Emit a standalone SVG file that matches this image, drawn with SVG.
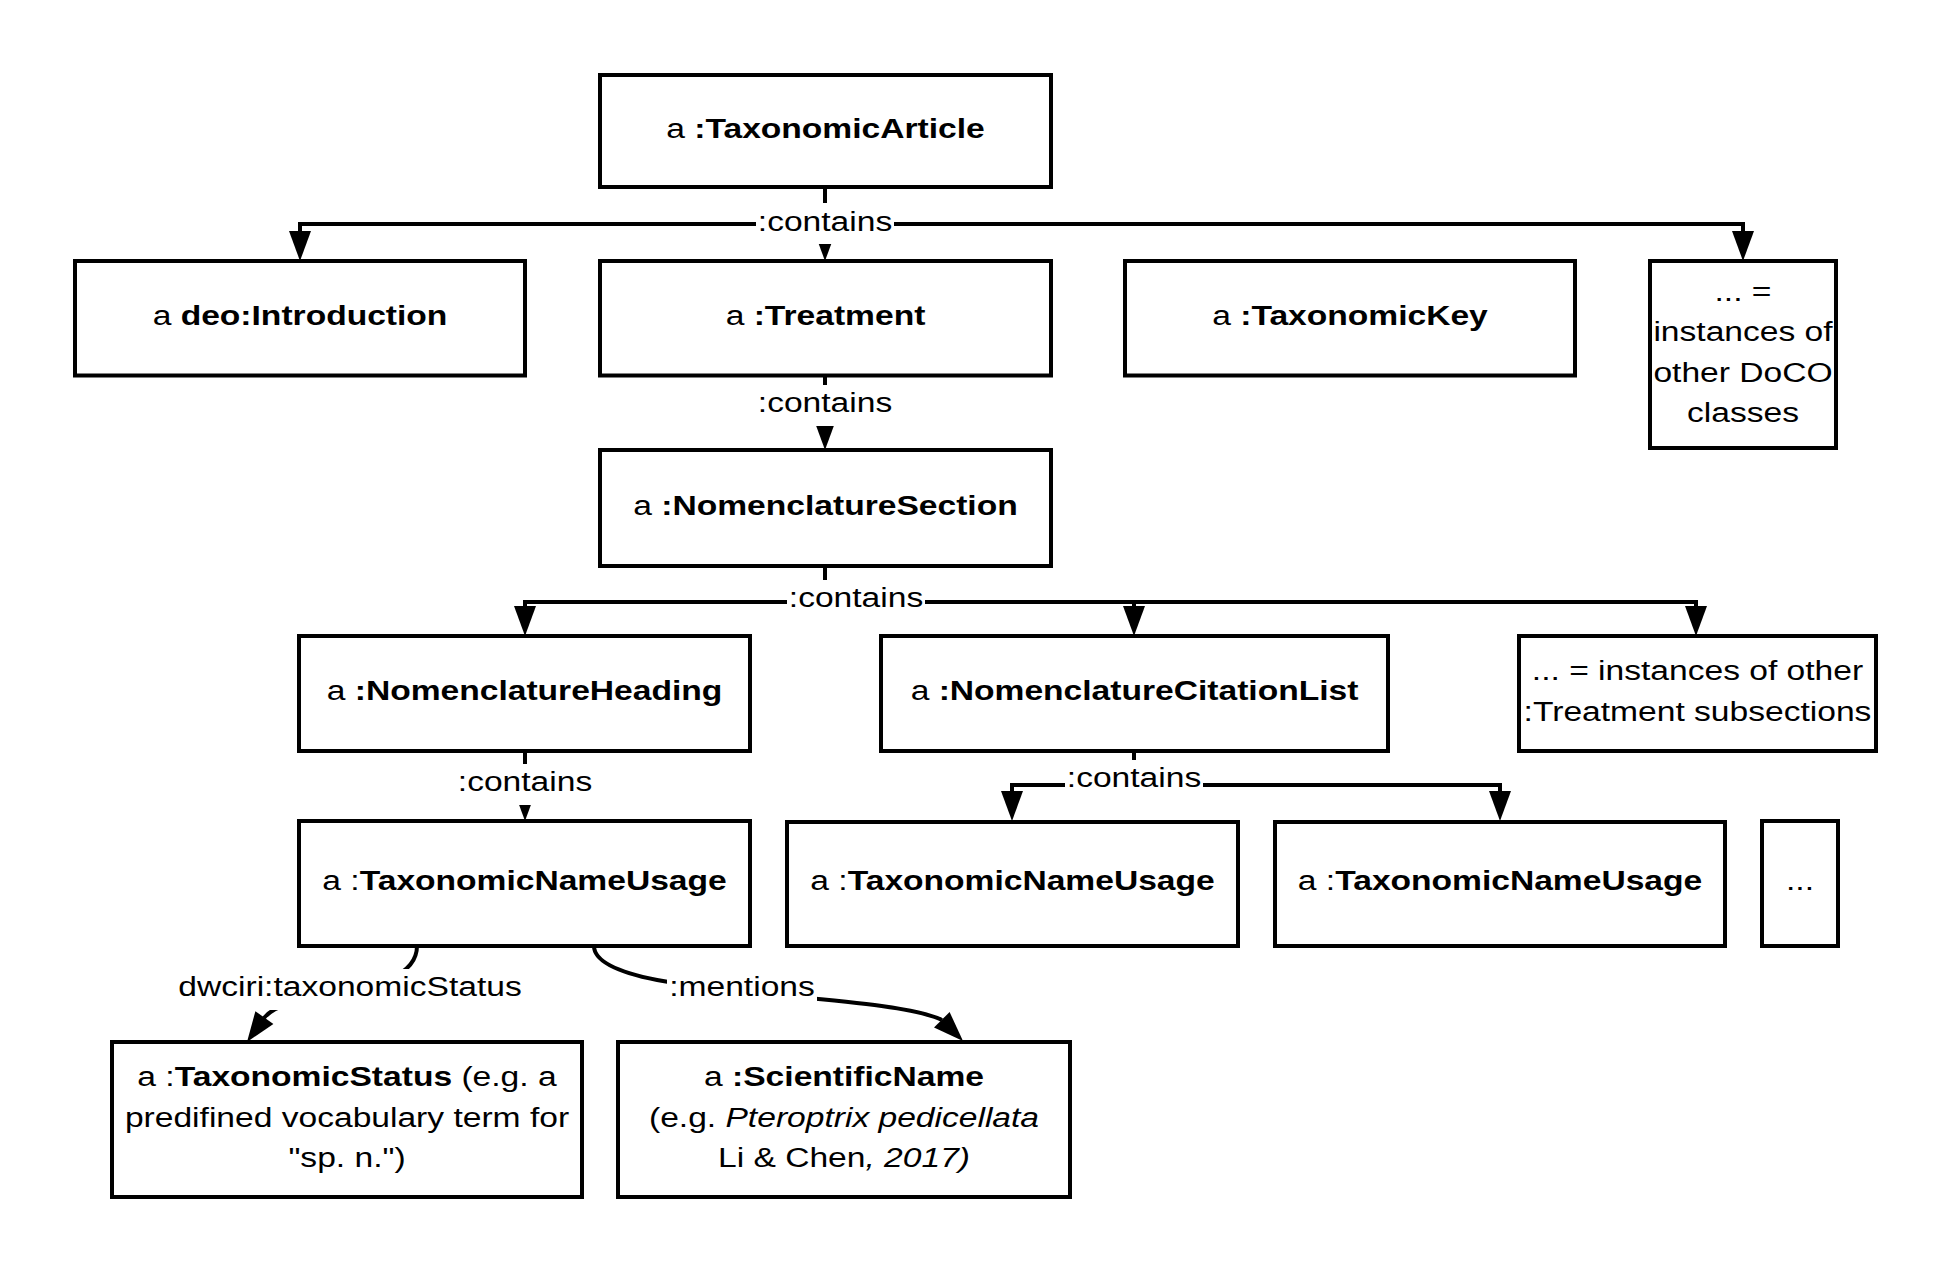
<svg xmlns="http://www.w3.org/2000/svg" width="1950" height="1273" viewBox="0 0 1950 1273">
<style>
.box{fill:#fff;stroke:#000;stroke-width:4}
.edge{fill:none;stroke:#000;stroke-width:4;stroke-linejoin:miter}
.head{fill:#000;stroke:none}
.lbg{fill:#fff;stroke:none}
text{font-family:"Liberation Sans",Arial,Helvetica,sans-serif;font-size:28px;fill:#000}
.b{font-weight:700}
.i{font-style:italic}
</style>
<defs>
<marker id="arr" markerUnits="userSpaceOnUse" markerWidth="30" markerHeight="22" viewBox="0 0 30 22" refX="0" refY="11" orient="auto">
<path d="M0,0 L30,11 L0,22 Z" fill="#000"/>
</marker>
</defs>
<rect width="1950" height="1273" fill="#fff"/>

<g id="connectors">
<path class="edge" d="M825,187 V231" marker-end="url(#arr)"/>
<path class="edge" d="M825,224 H300 V231" marker-end="url(#arr)"/>
<path class="edge" d="M825,224 H1743 V231" marker-end="url(#arr)"/>
<path class="edge" d="M825,375 V420" marker-end="url(#arr)"/>
<path class="edge" d="M825,566 V602 H525 V606" marker-end="url(#arr)"/>
<path class="edge" d="M825,602 H1134 V606" marker-end="url(#arr)"/>
<path class="edge" d="M1134,602 H1696 V606" marker-end="url(#arr)"/>
<path class="edge" d="M525,751 V791" marker-end="url(#arr)"/>
<path class="edge" d="M1134,751 V785 H1012 V791" marker-end="url(#arr)"/>
<path class="edge" d="M1134,785 H1500 V791" marker-end="url(#arr)"/>
<path class="edge" d="M417,946 C417,1000 290,985 264,1018"/>
<polygon class="head" points="247,1042 273.4,1024 255.4,1011.2"/>
<path class="edge" d="M594,946 C594,1000 880,990 942,1020"/>
<polygon class="head" points="963,1041 949.6,1012 934,1027.6"/>
<g id="edge-labels">
<rect class="lbg" x="756" y="203" width="138" height="41"/>
<text transform="translate(825,230.5) scale(1.2,1)" text-anchor="middle">:contains</text>
<rect class="lbg" x="756" y="385" width="138" height="41"/>
<text transform="translate(825,412) scale(1.2,1)" text-anchor="middle">:contains</text>
<rect class="lbg" x="787" y="580" width="138" height="41"/>
<text transform="translate(856,607) scale(1.2,1)" text-anchor="middle">:contains</text>
<rect class="lbg" x="456" y="764" width="138" height="41"/>
<text transform="translate(525,791) scale(1.2,1)" text-anchor="middle">:contains</text>
<rect class="lbg" x="1065" y="760" width="138" height="41"/>
<text transform="translate(1134,787) scale(1.2,1)" text-anchor="middle">:contains</text>
<rect class="lbg" x="176" y="969" width="348" height="41"/>
<text transform="translate(350,996) scale(1.2,1)" text-anchor="middle">dwciri:taxonomicStatus</text>
<rect class="lbg" x="667" y="969" width="150" height="41"/>
<text transform="translate(742,996) scale(1.2,1)" text-anchor="middle">:mentions</text>
</g>
</g>

<g id="taxonomic-article">
<rect class="box" x="600" y="75" width="451" height="112"/>
<text transform="translate(825.5,138) scale(1.2,1)" text-anchor="middle">a <tspan class="b">:TaxonomicArticle</tspan></text>
</g>
<g id="introduction">
<rect class="box" x="75" y="261" width="450" height="114.5"/>
<text transform="translate(300,325) scale(1.2,1)" text-anchor="middle">a <tspan class="b">deo:Introduction</tspan></text>
</g>
<g id="treatment">
<rect class="box" x="600" y="261" width="451" height="114.5"/>
<text transform="translate(825.5,325) scale(1.2,1)" text-anchor="middle">a <tspan class="b">:Treatment</tspan></text>
</g>
<g id="taxonomic-key">
<rect class="box" x="1125" y="261" width="450" height="114.5"/>
<text transform="translate(1350,325) scale(1.2,1)" text-anchor="middle">a <tspan class="b">:TaxonomicKey</tspan></text>
</g>
<g id="other-doco">
<rect class="box" x="1650" y="261" width="186" height="187"/>
<text transform="translate(1743,300.5) scale(1.2,1)" text-anchor="middle">... =</text>
<text transform="translate(1743,341) scale(1.2,1)" text-anchor="middle">instances of</text>
<text transform="translate(1743,381.5) scale(1.2,1)" text-anchor="middle">other DoCO</text>
<text transform="translate(1743,422) scale(1.2,1)" text-anchor="middle">classes</text>
</g>
<g id="nomenclature-section">
<rect class="box" x="600" y="450" width="451" height="116"/>
<text transform="translate(825.5,515) scale(1.2,1)" text-anchor="middle">a <tspan class="b">:NomenclatureSection</tspan></text>
</g>
<g id="nomenclature-heading">
<rect class="box" x="299" y="636" width="451" height="115"/>
<text transform="translate(524.5,700) scale(1.2,1)" text-anchor="middle">a <tspan class="b">:NomenclatureHeading</tspan></text>
</g>
<g id="nomenclature-citation-list">
<rect class="box" x="881" y="636" width="507" height="115"/>
<text transform="translate(1134.5,700) scale(1.2,1)" text-anchor="middle">a <tspan class="b">:NomenclatureCitationList</tspan></text>
</g>
<g id="other-subsections">
<rect class="box" x="1519" y="636" width="357" height="115"/>
<text transform="translate(1697.5,679.5) scale(1.2,1)" text-anchor="middle">... = instances of other</text>
<text transform="translate(1697.5,720.5) scale(1.2,1)" text-anchor="middle">:Treatment subsections</text>
</g>
<g id="tnu-1">
<rect class="box" x="299" y="821" width="451" height="125"/>
<text transform="translate(524.5,890) scale(1.2,1)" text-anchor="middle">a :<tspan class="b">TaxonomicNameUsage</tspan></text>
</g>
<g id="tnu-2">
<rect class="box" x="787" y="822" width="451" height="124"/>
<text transform="translate(1012.5,890) scale(1.2,1)" text-anchor="middle">a :<tspan class="b">TaxonomicNameUsage</tspan></text>
</g>
<g id="tnu-3">
<rect class="box" x="1275" y="822" width="450" height="124"/>
<text transform="translate(1500,890) scale(1.2,1)" text-anchor="middle">a :<tspan class="b">TaxonomicNameUsage</tspan></text>
</g>
<g id="tnu-more">
<rect class="box" x="1762" y="821" width="76" height="125"/>
<text transform="translate(1800,890) scale(1.2,1)" text-anchor="middle">...</text>
</g>
<g id="taxonomic-status">
<rect class="box" x="112" y="1042" width="470" height="155"/>
<text transform="translate(347,1086) scale(1.2,1)" text-anchor="middle">a :<tspan class="b">TaxonomicStatus</tspan> (e.g. a</text>
<text transform="translate(347,1126.5) scale(1.2,1)" text-anchor="middle">predifined vocabulary term for</text>
<text transform="translate(347,1167) scale(1.2,1)" text-anchor="middle">"sp. n.")</text>
</g>
<g id="scientific-name">
<rect class="box" x="618" y="1042" width="452" height="155"/>
<text transform="translate(844,1086) scale(1.2,1)" text-anchor="middle">a <tspan class="b">:ScientificName</tspan></text>
<text transform="translate(844,1126.5) scale(1.2,1)" text-anchor="middle">(e.g. <tspan class="i">Pteroptrix pedicellata</tspan></text>
<text transform="translate(844,1167) scale(1.2,1)" text-anchor="middle">Li &amp; Chen<tspan class="i">, 2017)</tspan></text>
</g>
</svg>
